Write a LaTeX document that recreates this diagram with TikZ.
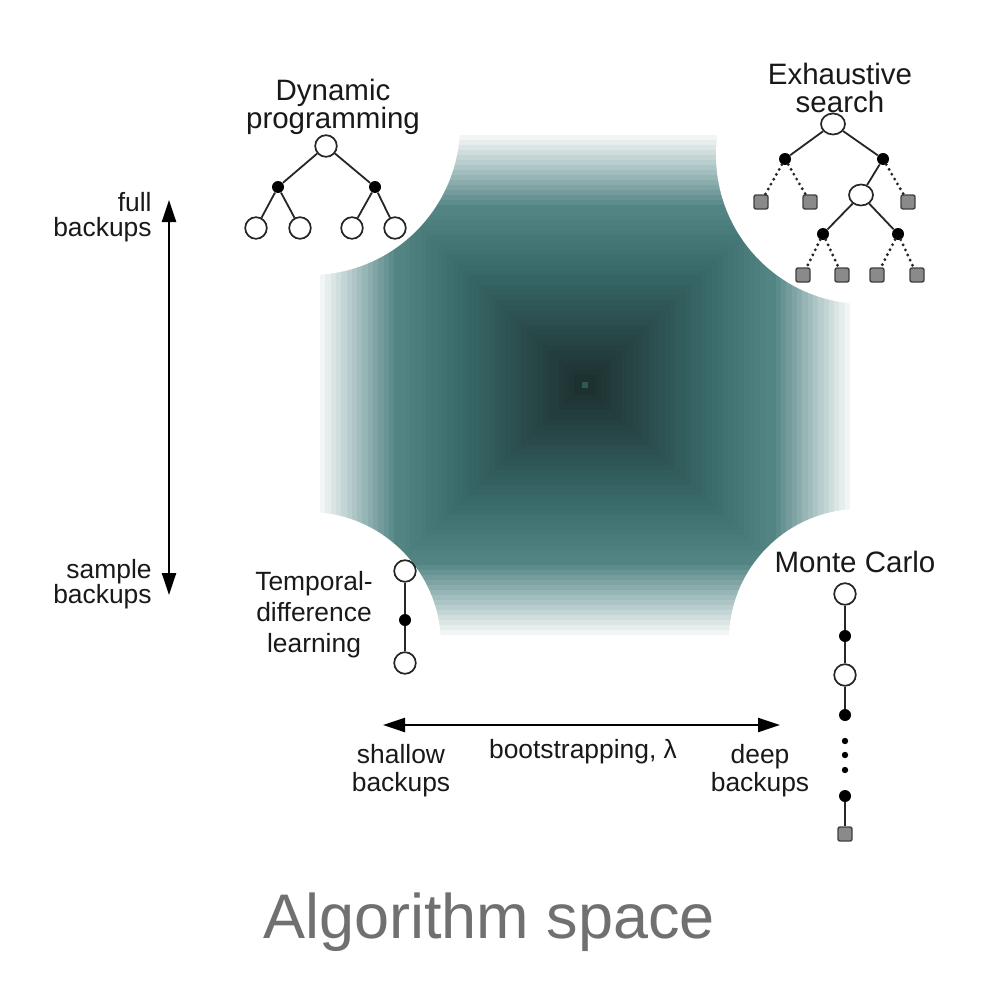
\documentclass[tikz,border=0pt]{standalone}
\usepackage{fontspec}
\setmainfont{Liberation Sans}
\usetikzlibrary{arrows.meta,shapes.geometric}
\definecolor{cML}{RGB}{82,132,132}
\definecolor{cB}{RGB}{56,104,104}
\definecolor{cD}{RGB}{29,47,47}
\definecolor{sqgray}{RGB}{138,138,138}
\definecolor{titlegray}{RGB}{112,112,112}
\definecolor{ink}{RGB}{25,25,25}
\begin{document}
\begin{tikzpicture}[x=0.5pt,y=-0.5pt,
  opennode/.style={circle,draw=black!85,fill=white,line width=0.85pt,minimum size=10.8pt,inner sep=0pt},
  dotnode/.style={circle,fill=black,minimum size=6pt,inner sep=0pt},
  tinydot/.style={circle,fill=black,minimum size=3.2pt,inner sep=0pt},
  sqnode/.style={rectangle,draw=black!75,fill=sqgray,line width=0.7pt,minimum size=7pt,inner sep=0pt,rounded corners=1pt},
  edge/.style={line width=0.9pt,draw=black!85},
  dotedge/.style={line width=1.6pt,draw=black!85,dash pattern=on 0pt off 2.8pt,line cap=round},
  head/.style={font=\fontsize{14.75}{13.8}\selectfont,align=center,inner sep=0pt,text=ink},
  lab/.style={font=\fontsize{13.2}{12.8}\selectfont,inner sep=0pt,text=ink},
  axis/.style={line width=1.2pt,{Triangle[length=11pt,width=7pt]}-{Triangle[length=11pt,width=7pt]}}
]
\useasboundingbox[fill=white] (0,0) rectangle (980,990);

% pyramid shading
\foreach \i in {0,...,14}{
  \pgfmathsetmacro\t{1-0.02*\i}
  \pgfmathsetmacro\p{8+92*\i/14}
  \fill[cML!\p!white] ({585-265*\t},{385-250*\t}) rectangle ({585+265*\t},{385+250*\t});
}
\foreach \i in {0,...,12}{
  \pgfmathsetmacro\t{0.70-0.02*\i}
  \pgfmathsetmacro\p{100*\i/12}
  \fill[cB!\p!cML] ({585-265*\t},{385-250*\t}) rectangle ({585+265*\t},{385+250*\t});
}
\foreach \i in {0,...,21}{
  \pgfmathsetmacro\t{0.44-0.02*\i}
  \pgfmathsetmacro\p{100*(\i+1)/22}
  \fill[cD!\p!cB] ({585-265*\t},{385-250*\t}) rectangle ({585+265*\t},{385+250*\t});
}
\fill[cB!70!cD] (582,382) rectangle (588,388);

% corner cut-outs
\fill[white] (310,125) circle[radius=75pt];
\fill[white] (865,155) circle[radius=74.5pt];
\fill[white] (308,645) circle[radius=66.5pt];
\fill[white] (860,640) circle[radius=65.5pt];

% axes
\coordinate (vtop) at (169,200);
\coordinate (vbot) at (169,595);
\coordinate (hl) at (383,725);
\coordinate (hr) at (780,725);
\draw[axis] (vtop) -- (vbot);
\draw[axis] (hl) -- (hr);

% labels
\node[head] (dph) at (333,107) {Dynamic\\programming};
\node[head] (esh) at (840,88) {Exhaustive\\search};
\node[head] (mch) at (855,562) {Monte Carlo};
\node[lab,align=center,font=\fontsize{13.2}{15.5}\selectfont] (tdh) at (314,615) {Temporal-\\difference\\learning};
\node[lab,align=right,anchor=east] (full) at (152,217) {full\\backups};
\node[lab,align=right,anchor=east] (sample) at (152,584) {sample\\backups};
\node[lab,align=center,font=\fontsize{13.2}{14}\selectfont] (shallow) at (401,771) {shallow\\backups};
\node[lab,align=center,font=\fontsize{13.2}{14}\selectfont] (deep) at (760,771) {deep\\backups};
\node[lab] (boot) at (583,752) {bootstrapping, λ};
\node[font=\fontsize{31.5}{32}\selectfont,text=titlegray,inner sep=0pt] (title) at (489,922) {Algorithm space};

% Dynamic programming tree
\node[opennode] (d0) at (326,146) {};
\node[dotnode] (d1) at (278,187) {};
\node[dotnode] (d2) at (375,187) {};
\node[opennode] (d11) at (256,228) {};
\node[opennode] (d12) at (300,228) {};
\node[opennode] (d21) at (352,228) {};
\node[opennode] (d22) at (395,228) {};
\draw[edge] (d0) -- (d1);
\draw[edge] (d0) -- (d2);
\draw[edge] (d1) -- (d11);
\draw[edge] (d1) -- (d12);
\draw[edge] (d2) -- (d21);
\draw[edge] (d2) -- (d22);

% Exhaustive search tree
\node[opennode,ellipse,minimum width=12pt,minimum height=10.5pt] (e0) at (833,124) {};
\node[dotnode] (e1) at (785,159) {};
\node[dotnode] (e2) at (883,159) {};
\node[sqnode] (e11) at (761,202) {};
\node[sqnode] (e12) at (810,202) {};
\node[opennode,ellipse,minimum width=12pt,minimum height=10.5pt] (e21) at (861,195) {};
\node[sqnode] (e22) at (908,202) {};
\node[dotnode] (e3) at (823,234) {};
\node[dotnode] (e4) at (898,234) {};
\node[sqnode] (e31) at (803,275) {};
\node[sqnode] (e32) at (842,275) {};
\node[sqnode] (e41) at (877,275) {};
\node[sqnode] (e42) at (917,275) {};
\draw[edge] (e0) -- (e1);
\draw[edge] (e0) -- (e2);
\draw[dotedge] (e1) -- (e11);
\draw[dotedge] (e1) -- (e12);
\draw[edge] (e2) -- (e21);
\draw[dotedge] (e2) -- (e22);
\draw[edge] (e21) -- (e3);
\draw[edge] (e21) -- (e4);
\draw[dotedge] (e3) -- (e31);
\draw[dotedge] (e3) -- (e32);
\draw[dotedge] (e4) -- (e41);
\draw[dotedge] (e4) -- (e42);

% Temporal-difference chain
\node[opennode] (t0) at (405,571) {};
\node[dotnode] (t1) at (405,620) {};
\node[opennode] (t2) at (405,663) {};
\draw[edge] (t0) -- (t1);
\draw[edge] (t1) -- (t2);

% Monte Carlo chain
\node[opennode] (m0) at (845,594) {};
\node[dotnode] (m1) at (845,636) {};
\node[opennode] (m2) at (845,675) {};
\node[dotnode] (m3) at (845,715) {};
\node[tinydot] (m4) at (845,741) {};
\node[tinydot] (m5) at (845,755) {};
\node[tinydot] (m6) at (845,770) {};
\node[dotnode] (m7) at (845,796) {};
\node[sqnode] (m8) at (845,834) {};
\draw[edge] (m0) -- (m1);
\draw[edge] (m1) -- (m2);
\draw[edge] (m2) -- (m3);
\draw[edge] (m7) -- (m8);
\end{tikzpicture}
\end{document}
